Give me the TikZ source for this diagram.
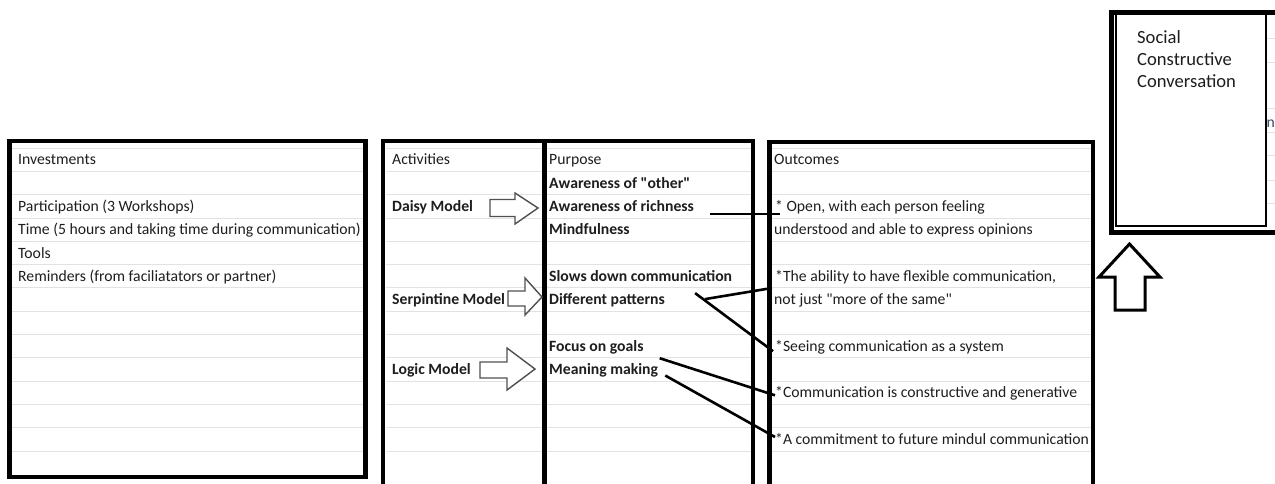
\documentclass[tikz,border=0pt]{standalone}
\usepackage{fontspec}
\setmainfont{Carlito}
\newfontfamily\plainq{Carlito}[Ligatures=TeXOff]
\usetikzlibrary{calc}
\definecolor{txt}{HTML}{1E1E1E}
\definecolor{gridc}{HTML}{E2E2E2}
\definecolor{arrgray}{HTML}{505050}
\definecolor{frag}{HTML}{3A4A66}
\newcommand\dq{{\plainq\symbol{34}}}
\tikzset{
  lbl/.style={anchor=base west, inner sep=0pt, text=txt, font=\fontsize{15.7}{18}\selectfont},
  blbl/.style={anchor=base west, inner sep=0pt, text=txt, font=\fontsize{15.7}{18}\selectfont\bfseries},
  biglbl/.style={anchor=base west, inner sep=0pt, text=txt, font=\fontsize{18.6}{22}\selectfont},
  frame/.style={line width=4.5pt, draw=black},
  gridline/.style={draw=gridc, line width=1pt},
  conn/.style={draw=black, line width=2.6pt},
  blockarrow/.style={draw=arrgray, fill=white, line width=1.4pt, line join=miter},
  uparrow/.style={draw=black, fill=white, line width=3pt, line join=miter},
}
\begin{document}
\begin{tikzpicture}[x=1pt,y=-1pt]
\useasboundingbox (0,0) rectangle (1275,483);
\clip (0,0) rectangle (1275,483);
\fill[white] (0,0) rectangle (1275,483);

% spreadsheet grid lines inside the boxes
\foreach \k in {-1,...,12}{
  \pgfmathsetmacro{\yy}{171.45+23.3*\k}
  \draw[gridline] (12,\yy) -- (364,\yy);
  \draw[gridline] (386,\yy) -- (751,\yy);
  \draw[gridline] (772,\yy) -- (1091,\yy);
}
\foreach \yy in {38,62,108,132,155,180,203}{
  \draw[gridline] (1266,\yy) -- (1275,\yy);
}

% frames
\draw[frame] (9.5,141) rectangle (365.5,477);
\draw[frame] (383,489) -- (383,141) -- (753,141) -- (753,489);
\draw[frame] (544.5,141) -- (544.5,489);
\draw[frame] (769.5,489) -- (769.5,142) -- (1093,142) -- (1093,489);

% social constructive conversation box
\draw[line width=5pt] (1290,12) -- (1111,12) -- (1111,232) -- (1290,232);
\node[lbl, text=frag] (frag) at (1266.5,127) {n};
\draw[line width=1.6pt, fill=white] (1116,14.5) rectangle (1266,226);
\node[biglbl] (soc1) at (1137,43) {Social};
\node[biglbl] (soc2) at (1137,65) {Constructive};
\node[biglbl] (soc3) at (1137,87) {Conversation};

% up arrow
\draw[uparrow] (1115,310) -- (1115,277) -- (1099,277) -- (1129.5,244) -- (1160,277) -- (1145,277) -- (1145,310) -- cycle;

% Investments column
\node[lbl] (inv)  at (18,164.8) {Investments};
\node[lbl] (part) at (18,211.4) {Participation (3 Workshops)};
\node[lbl] (time) at (18,234.7) {Time (5 hours and taking time during communication)};
\node[lbl] (tools) at (18,258) {Tools};
\node[lbl] (remind) at (18,281.3) {Reminders (from faciliatators or partner)};

% Activities column
\node[lbl]  (act)   at (392,164.8) {Activities};
\node[blbl] (daisy) at (392,211.4) {Daisy Model};
\node[blbl] (serp)  at (392,304.6) {Serpintine Model};
\node[blbl] (logic) at (392,374.5) {Logic Model};

% Purpose column
\node[lbl]  (purp)     at (549,164.8) {Purpose};
\node[blbl] (other)    at (549,188.1) {Awareness of \dq other\dq};
\node[blbl] (richness) at (549,211.4) {Awareness of richness};
\node[blbl] (mindful)  at (549,234.7) {Mindfulness};
\node[blbl] (slows)    at (549,281.3) {Slows down communication};
\node[blbl] (patterns) at (549,304.6) {Different patterns};
\node[blbl] (goals)    at (549,351.2) {Focus on goals};
\node[blbl] (meaning)  at (549,374.5) {Meaning making};

% Outcomes column
\node[lbl] (outc)   at (774,164.8) {Outcomes};
\node[lbl] (open)   at (775,211.4) {* Open, with each person feeling};
\node[lbl] (open2)  at (774,234.7) {understood and able to express opinions};
\node[lbl] (flex)   at (775,281.3) {*The ability to have flexible communication,};
\node[lbl] (flex2)  at (774,304.6) {not just \dq more of the same\dq};
\node[lbl] (seeing) at (775,351.2) {*Seeing communication as a system};
\node[lbl] (constr) at (775,397.8) {*Communication is constructive and generative};
\node[lbl] (commit) at (775,444.4) {*A commitment to future mindul communication};

% block arrows activities -> purpose
\draw[blockarrow] (490,199.5) -- (515,199.5) -- (515,193) -- (538,208) -- (515,224) -- (515,216.5) -- (490,216.5) -- cycle;
\draw[blockarrow] (508,291) -- (525,291) -- (525,278) -- (542,297) -- (525,315) -- (525,306) -- (508,306) -- cycle;
\draw[blockarrow] (480,362) -- (507,362) -- (507,348) -- (535,369) -- (507,390) -- (507,378) -- (480,378) -- cycle;

% connectors purpose -> outcomes
\draw[conn] ($(richness.base east)+(16,2.6)$) -- ($(open.base west)+(5,2.6)$);
\draw[conn] ($(patterns.base east)+(40,-5.5)$) -- ($(flex.base west)+(-3,6.7)$);
\draw[conn] ($(patterns.base east)+(30,-11.5)$) -- ($(seeing.base west)+(-2,0)$);
\draw[conn] ($(goals.base east)+(16,7)$) -- ($(constr.base west)+(0,-2.5)$);
\draw[conn] ($(meaning.base east)+(7,1)$) -- ($(commit.base west)+(0,-7.4)$);
\end{tikzpicture}
\end{document}
